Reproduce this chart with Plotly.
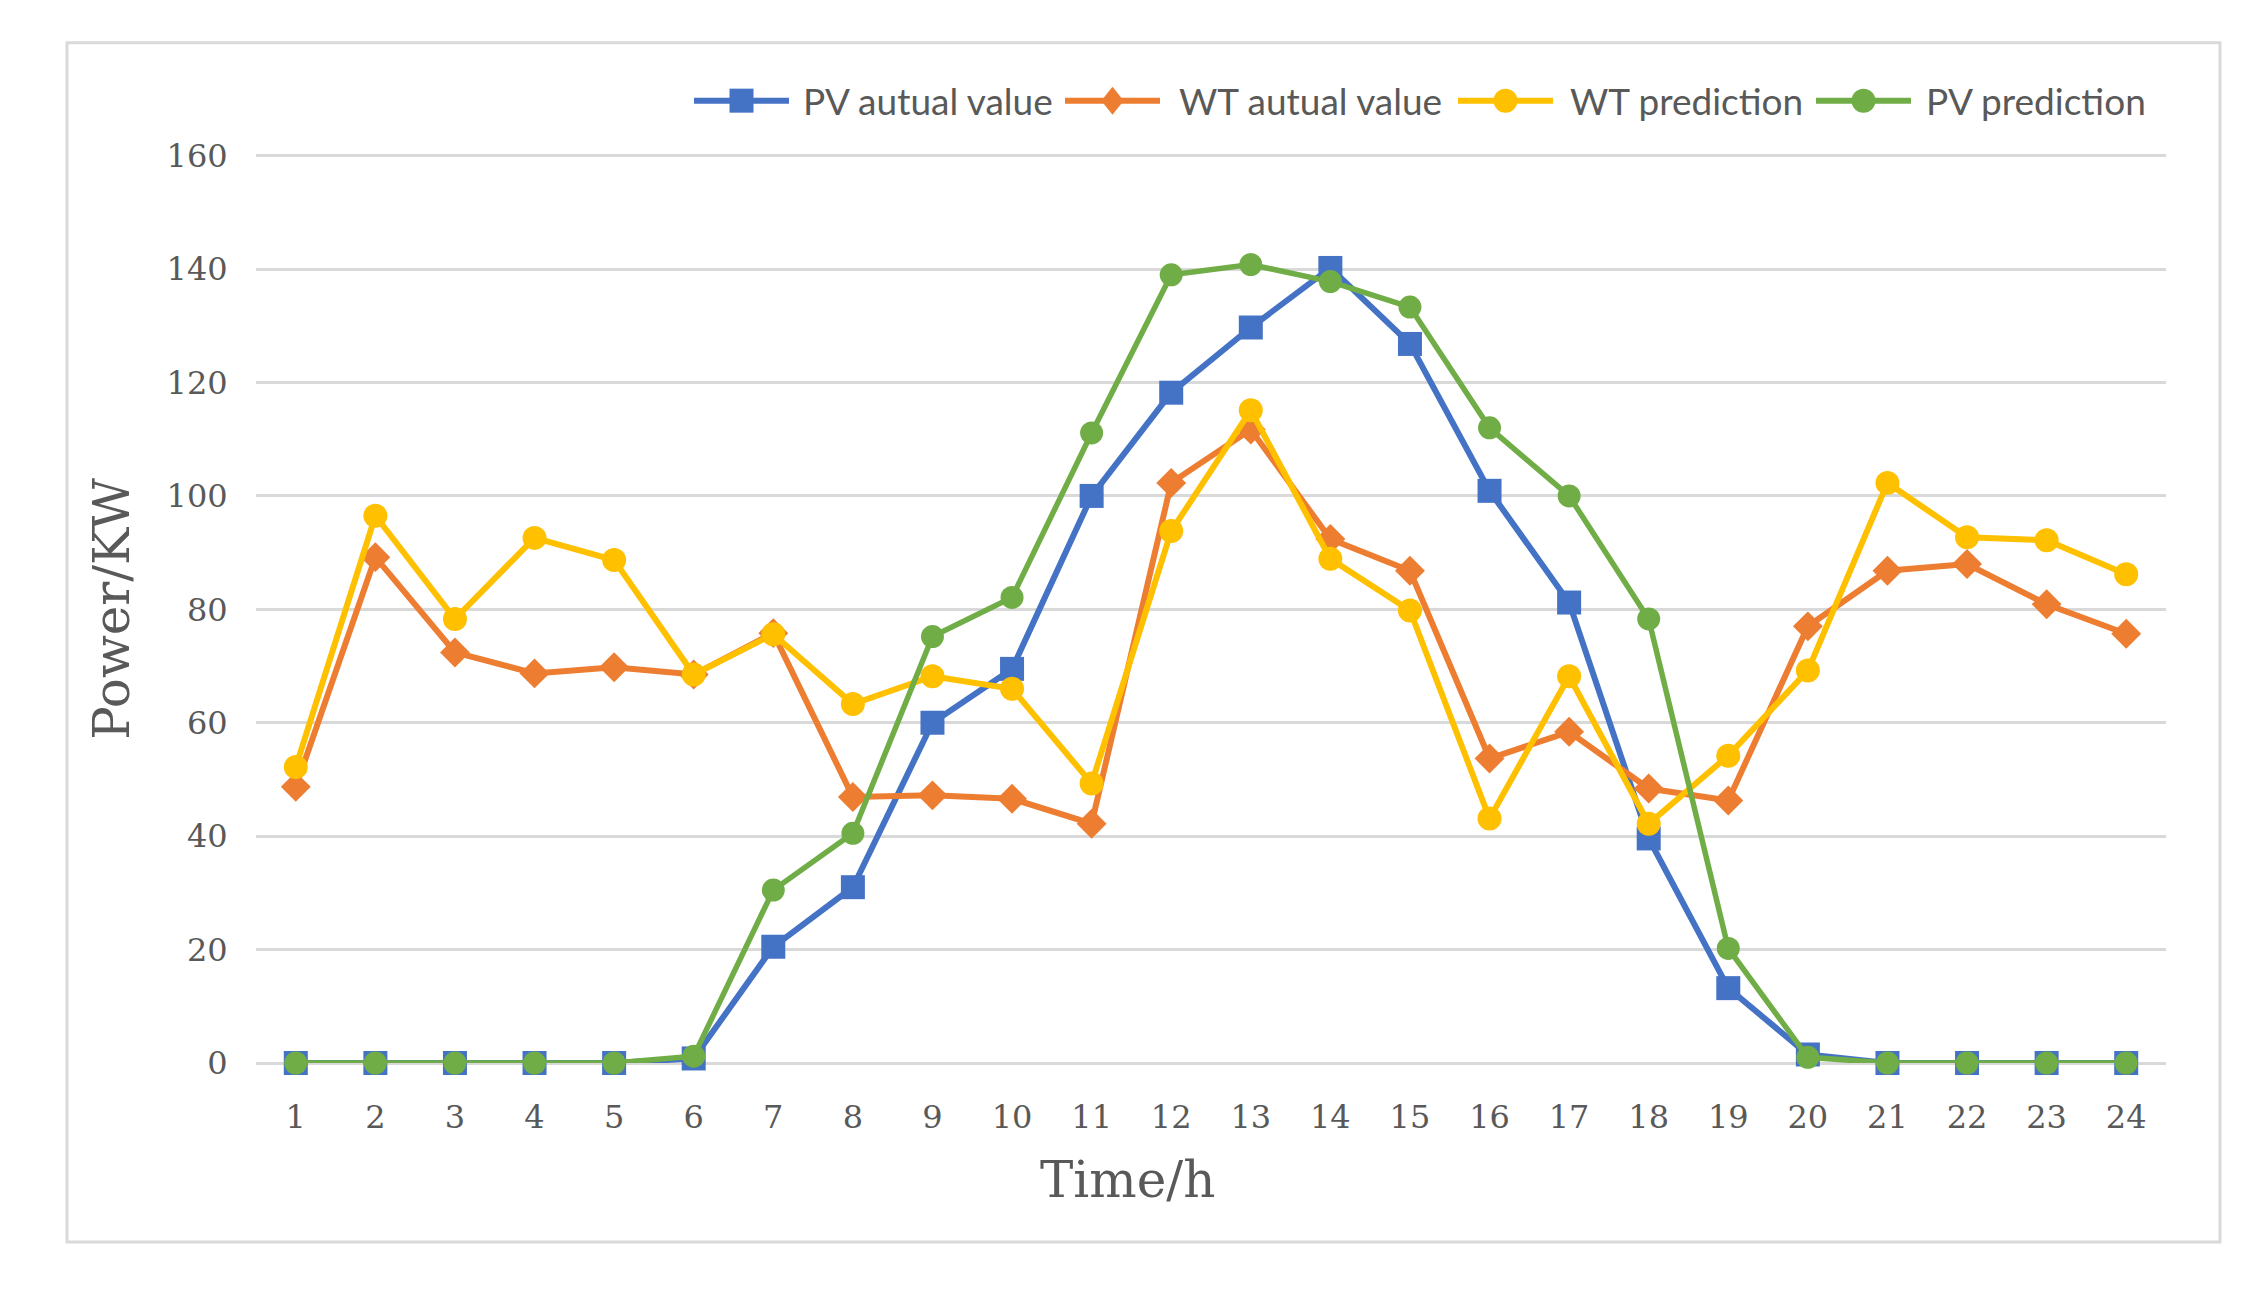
import plotly.graph_objects as go

hours = list(range(1, 25))
pv_actual = [0, 0, 0, 0, 0, 0.8, 20.5, 31, 60, 69.5, 100, 118.2, 129.7, 140.2, 126.8, 100.9, 81.2, 39.6, 13.2, 1.5, 0, 0, 0, 0]
wt_actual = [48.7, 89.2, 72.4, 68.7, 69.8, 68.5, 75.8, 46.9, 47.2, 46.6, 42.2, 102.3, 111.7, 92.4, 86.8, 53.7, 58.4, 48.4, 46.3, 77.0, 86.8, 88.0, 80.9, 75.7]
wt_pred = [52.2, 96.5, 78.3, 92.6, 88.7, 68.5, 75.6, 63.3, 68.2, 66.0, 49.3, 93.8, 115.1, 88.9, 79.8, 43.1, 68.2, 42.2, 54.2, 69.2, 102.3, 92.7, 92.2, 86.2]
pv_pred = [0, 0, 0, 0, 0, 1.2, 30.5, 40.5, 75.2, 82.1, 111.1, 139.0, 140.8, 137.8, 133.3, 112.0, 100.0, 78.3, 20.2, 1.0, 0, 0, 0, 0]
y_ticks = [0, 20, 40, 60, 80, 100, 120, 140, 160]

names = ["PV autual value", "WT autual value", "WT prediction", "PV prediction"]
values = [pv_actual, wt_actual, wt_pred, pv_pred]
colors = ["#4472C4", "#ED7D31", "#FFC000", "#70AD47"]
symbols = ["square", "diamond", "circle", "circle"]
msizes = [24, 23, 24, 23]
lwidths = [6, 6, 6, 5.5]

O = 8  # browser body margin
W, H = 2255 - 2 * O, 1291 - 2 * O

def X(v):
    return v - O

def Y(v):
    return v - O

Y_MAX = 161.0
L, R = X(256), X(2166)
B = Y(1063)
unit = (1063 - 156) / 160.0
T = Y(1063 - Y_MAX * unit)
pw, ph = R - L, B - T

def px(x):
    return (X(x) - L) / pw

def py(y):
    return (B - Y(y)) / ph

fig = go.Figure()
for name, vals, color, sym, size, lw in zip(names, values, colors, symbols, msizes, lwidths):
    fig.add_trace(go.Scatter(
        x=hours, y=vals, name=name, mode="lines+markers",
        line=dict(color=color, width=lw),
        marker=dict(symbol=sym, size=size, color=color, line=dict(width=0)),
        cliponaxis=False, showlegend=False,
    ))

# custom legend (Excel-style long line symbols)
leg_line_start = [694, 1065, 1458, 1816]
leg_text_start = [801, 1177, 1568, 1924]
leg_y = 101
shapes = [dict(
    type="rect", xref="paper", yref="paper",
    x0=px(67), x1=px(2220), y0=py(1242), y1=py(43),
    line=dict(color="#D9D9D9", width=3), fillcolor="rgba(0,0,0,0)", layer="below",
)]
annotations = []
for i in range(4):
    x0 = leg_line_start[i]
    x1 = x0 + 95
    xc = (x0 + x1) / 2
    shapes.append(dict(type="line", xref="paper", yref="paper",
                       x0=px(x0), x1=px(x1), y0=py(leg_y), y1=py(leg_y),
                       line=dict(color=colors[i], width=6)))
    s = 12
    if symbols[i] == "square":
        shapes.append(dict(type="rect", xref="paper", yref="paper",
                           x0=px(xc - s), x1=px(xc + s), y0=py(leg_y + s), y1=py(leg_y - s),
                           fillcolor=colors[i], line=dict(width=0)))
    elif symbols[i] == "circle":
        shapes.append(dict(type="circle", xref="paper", yref="paper",
                           x0=px(xc - s), x1=px(xc + s), y0=py(leg_y + s), y1=py(leg_y - s),
                           fillcolor=colors[i], line=dict(width=0)))
    else:
        d = 14
        path = "M {} {} L {} {} L {} {} L {} {} Z".format(
            px(xc), py(leg_y - d), px(xc + d * 0.8), py(leg_y),
            px(xc), py(leg_y + d), px(xc - d * 0.8), py(leg_y))
        shapes.append(dict(type="path", xref="paper", yref="paper", path=path,
                           fillcolor=colors[i], line=dict(width=0)))
    annotations.append(dict(text=names[i], xref="paper", yref="paper",
                            x=px(leg_text_start[i]), y=py(leg_y),
                            xanchor="left", yanchor="middle", showarrow=False,
                            font=dict(family="Lato", size=37, color="#595959")))

annotations += [
    dict(text="Time/h", xref="paper", yref="paper", x=px(1127), y=py(1180),
         xanchor="center", yanchor="middle", showarrow=False,
         font=dict(family="DejaVu Serif", size=50, color="#595959")),
    dict(text="Power/KW", xref="paper", yref="paper", x=px(112), y=py(609),
         xanchor="center", yanchor="middle", showarrow=False, textangle=-90,
         font=dict(family="DejaVu Serif", size=50, color="#595959")),
]

fig.update_layout(
    width=W, height=H,
    margin=dict(l=L, r=W - R, t=T, b=H - B),
    paper_bgcolor="white", plot_bgcolor="white",
    showlegend=False,
    xaxis=dict(
        range=[0.5, 24.5], tickmode="array", tickvals=hours,
        ticktext=[str(h) for h in hours],
        showgrid=False, zeroline=False, showline=False,
        ticks="outside", ticklen=26, tickcolor="rgba(0,0,0,0)",
        tickfont=dict(family="DejaVu Serif", size=32, color="#595959"),
        automargin=False,
    ),
    yaxis=dict(
        range=[0, Y_MAX], tickmode="array", tickvals=y_ticks,
        showgrid=True, gridcolor="#D9D9D9", gridwidth=3,
        zeroline=True, zerolinecolor="#D9D9D9", zerolinewidth=3,
        showline=False,
        ticks="outside", ticklen=21, tickcolor="rgba(0,0,0,0)",
        tickfont=dict(family="DejaVu Serif", size=32, color="#595959"),
        automargin=False,
    ),
    shapes=shapes,
    annotations=annotations,
)

fig.write_html("out.html")
